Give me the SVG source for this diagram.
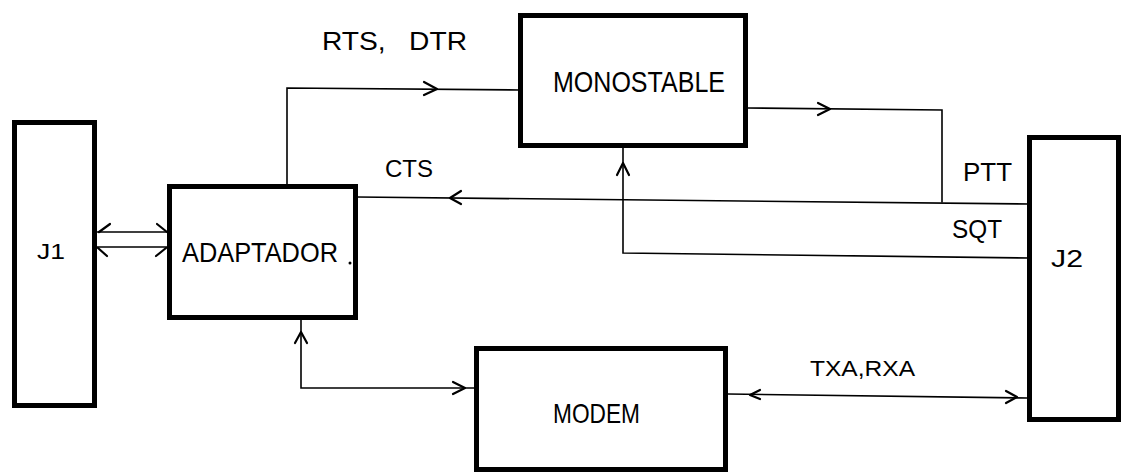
<svg xmlns="http://www.w3.org/2000/svg" width="1122" height="473" viewBox="0 0 1122 473">
<style>
.box{fill:none;stroke:#000;stroke-width:5}
.ln{fill:none;stroke:#000;stroke-width:1.6;stroke-linecap:round;stroke-linejoin:miter}
.ah{fill:none;stroke:#000;stroke-width:2.2;stroke-linecap:round;stroke-linejoin:round}
.t{font-family:"Liberation Sans",Arial,sans-serif;fill:#000}
</style>
<rect width="1122" height="473" fill="#fff"/>
<g id="connectors">
<path class="ln" d="M97,232 H167"/>
<path class="ah" d="M110,224 L99,232 M157,224 L167,232"/>
<path class="ln" d="M97,247 H167"/>
<path class="ah" d="M107,256 L98,248 M156,256 L166,248"/>
<path class="ln" d="M287,184 V88 L519,90"/>
<path class="ah" d="M424,82 L437,89 L424,95"/>
<path class="ln" d="M747,108 L942,110 V202"/>
<path class="ah" d="M818,103 L830,109 L818,115"/>
<path class="ln" d="M1029,204 L357,197"/>
<path class="ah" d="M461,191 L450,198 L461,204"/>
<path class="ln" d="M1029,258 L623,253 V148"/>
<path class="ah" d="M617,175 L623,163 L629,175"/>
<path class="ln" d="M301,320 V388 H474"/>
<path class="ah" d="M295,343 L301,332 L307,343"/>
<path class="ah" d="M453,382 L465,388 L453,394"/>
<path class="ln" d="M728,394 L1027,398"/>
<path class="ah" d="M760,390 L750,395 L760,399"/>
<path class="ah" d="M1006,391 L1017,397 L1006,403"/>
</g>
<g id="J1">
<rect class="box" x="14.5" y="122.5" width="80" height="283"/>
<text class="t" x="37" y="259" font-size="22" textLength="28" lengthAdjust="spacingAndGlyphs">J1</text>
</g>
<g id="ADAPTADOR">
<rect class="box" x="169.5" y="186.5" width="186" height="131"/>
<text class="t" x="182" y="262" font-size="28" textLength="156" lengthAdjust="spacingAndGlyphs">ADAPTADOR</text>
<circle cx="350" cy="263" r="1.5" fill="#000"/>
</g>
<g id="MONOSTABLE">
<rect class="box" x="520.5" y="15.5" width="225" height="130"/>
<text class="t" x="553" y="92" font-size="30" textLength="172" lengthAdjust="spacingAndGlyphs">MONOSTABLE</text>
</g>
<g id="J2">
<rect class="box" x="1029.5" y="137.5" width="89" height="282"/>
<text class="t" x="1051" y="267" font-size="24" textLength="32" lengthAdjust="spacingAndGlyphs">J2</text>
</g>
<g id="MODEM">
<rect class="box" x="476.5" y="348.5" width="249" height="121"/>
<text class="t" x="553" y="423" font-size="28" textLength="87" lengthAdjust="spacingAndGlyphs">MODEM</text>
</g>
<g id="labels">
<text class="t" x="322" y="50" font-size="25" textLength="145" lengthAdjust="spacingAndGlyphs" xml:space="preserve">RTS,   DTR</text>
<text class="t" x="385" y="177" font-size="24" textLength="48" lengthAdjust="spacingAndGlyphs">CTS</text>
<text class="t" x="963" y="181" font-size="25" textLength="49" lengthAdjust="spacingAndGlyphs">PTT</text>
<text class="t" x="952" y="238" font-size="25" textLength="50" lengthAdjust="spacingAndGlyphs">SQT</text>
<text class="t" x="810" y="376" font-size="22" textLength="105" lengthAdjust="spacingAndGlyphs">TXA,RXA</text>
</g>
</svg>
